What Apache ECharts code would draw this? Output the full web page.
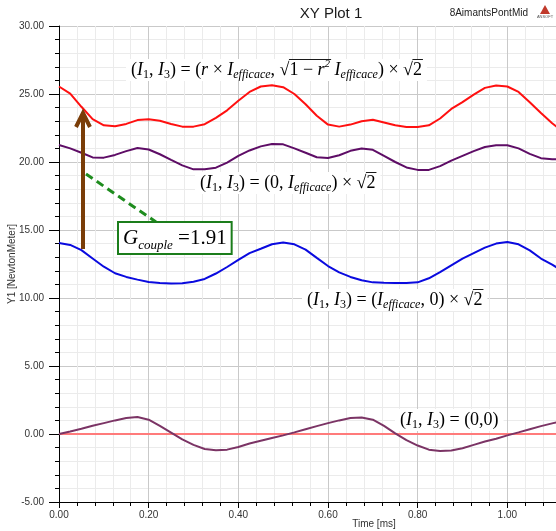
<!DOCTYPE html>
<html>
<head>
<meta charset="utf-8">
<script src="https://cdn.jsdelivr.net/npm/echarts@6/dist/echarts.min.js"></script>
<style>
html,body{margin:0;padding:0;background:#fff;}
#c{width:556px;height:531px;}
</style>
</head>
<body>
<div id="c"></div>
<script>
const timeMs = [0,0.025,0.05,0.075,0.1,0.125,0.15,0.175,0.2,0.225,0.25,0.275,0.3,0.325,0.35,0.375,0.4,0.425,0.45,0.475,0.5,0.525,0.55,0.575,0.6,0.625,0.65,0.675,0.7,0.725,0.75,0.775,0.8,0.825,0.85,0.875,0.9,0.925,0.95,0.975,1.0,1.025,1.05,1.075,1.1,1.11];
const torqueRI = [25.55,25.03,24.06,23.15,22.7,22.63,22.8,23.08,23.14,23.03,22.8,22.6,22.6,22.78,23.25,23.8,24.5,25.15,25.55,25.65,25.5,25.0,24.25,23.4,22.75,22.6,22.75,23.0,23.1,22.9,22.7,22.58,22.58,22.7,23.2,23.9,24.4,24.95,25.45,25.62,25.55,25.15,24.4,23.6,22.85,22.6];
const torque0I = [21.25,21.0,20.68,20.34,20.32,20.52,20.8,21.03,20.92,20.57,20.15,19.75,19.46,19.46,19.58,19.95,20.45,20.85,21.15,21.32,21.3,21.0,20.68,20.35,20.3,20.5,20.82,21.0,20.9,20.45,20.0,19.6,19.42,19.42,19.7,20.1,20.45,20.8,21.1,21.23,21.23,21.0,20.6,20.28,20.2,20.2];
const torqueI0 = [14.05,13.9,13.52,12.9,12.3,11.82,11.55,11.35,11.18,11.1,11.06,11.08,11.2,11.4,11.8,12.28,12.8,13.3,13.62,13.95,14.08,13.95,13.56,12.95,12.35,11.88,11.55,11.3,11.15,11.12,11.1,11.1,11.15,11.45,11.9,12.4,12.9,13.3,13.7,14.0,14.12,13.95,13.5,12.9,12.45,12.25];
const torque00 = [0.0,0.18,0.38,0.6,0.8,1.0,1.17,1.25,1.05,0.6,0.1,-0.4,-0.8,-1.1,-1.2,-1.15,-0.95,-0.7,-0.5,-0.3,-0.1,0.12,0.35,0.58,0.8,1.0,1.18,1.22,1.05,0.6,0.05,-0.45,-0.85,-1.15,-1.25,-1.22,-1.05,-0.8,-0.55,-0.35,-0.1,0.12,0.35,0.58,0.78,0.85];
const zeroRef = timeMs.map(() => 0);
const yTicks = [-5, 30, 5];
const xTicks = [0, 1.2, 0.2];

const pair = (vals) => timeMs.map((t, i) => [t, vals[i]]);
const chart = echarts.init(document.getElementById('c'));

const serif = 'Liberation Serif';
const rich = {
  n: {fontFamily: serif, fontSize: 18, color: '#1a1a1a', lineHeight: 22},
  i: {fontFamily: serif, fontSize: 18, fontStyle: 'italic', color: '#1a1a1a', lineHeight: 22},
  s: {fontFamily: serif, fontSize: 12, color: '#1a1a1a', lineHeight: 12, verticalAlign: 'bottom'},
  si: {fontFamily: serif, fontSize: 12, fontStyle: 'italic', color: '#1a1a1a', lineHeight: 12, verticalAlign: 'bottom'},
  sup: {fontFamily: serif, fontSize: 11, fontStyle: 'italic', color: '#1a1a1a', lineHeight: 11, verticalAlign: 'top'},
  gi: {fontFamily: serif, fontSize: 21, fontStyle: 'italic', color: '#1a1a1a', lineHeight: 28},
  gn: {fontFamily: serif, fontSize: 21, color: '#1a1a1a', lineHeight: 28},
  gs: {fontFamily: serif, fontSize: 13, fontStyle: 'italic', color: '#1a1a1a', lineHeight: 13, verticalAlign: 'bottom'}
};
const mctx = document.createElement('canvas').getContext('2d');
function tokW(st, txt) {
  const r = rich[st];
  mctx.font = (r.fontStyle ? 'italic ' : '') + r.fontSize + 'px ' + r.fontFamily;
  return mctx.measureText(txt).width;
}
// tokens: [style, text, overline?]
function formula(x, y, tokens) {
  const pad = 5;
  let cx = x + pad;
  const out = [];
  let text = '';
  let barStart = null;
  tokens.forEach(([st, txt, bar]) => {
    const w = tokW(st, txt);
    if (bar && barStart === null) barStart = cx;
    if (!bar && barStart !== null) { out.push([barStart, cx]); barStart = null; }
    text += '{' + st + '|' + txt + '}';
    cx += w;
  });
  if (barStart !== null) out.push([barStart, cx]);
  const els = [{type: 'text', z: 100, style: {x: x, y: y, text: text, rich: rich, textAlign: 'left', textVerticalAlign: 'middle', backgroundColor: '#fff', padding: [0, pad]}}];
  out.forEach(([a, b]) => {
    els.push({type: 'line', z: 101, shape: {x1: a - 0.5, y1: y - 10.5, x2: b + 1, y2: y - 10.5}, style: {stroke: '#1a1a1a', lineWidth: 1}});
  });
  return els;
}
const I13 = [['n','('],['i','I'],['s','1'],['n',', '],['i','I'],['s','3'],['n',') = (']];
const f1 = I13.concat([['i','r'],['n',' × '],['i','I'],['si','efficace'],['n',', √'],['n','1 − ',1],['i','r',1],['sup','2',1],['n',' '],['i','I'],['si','efficace'],['n',') × √'],['n','2',1]]);
const f2 = I13.concat([['n','0, '],['i','I'],['si','efficace'],['n',') × √'],['n','2',1]]);
const f3 = I13.concat([['i','I'],['si','efficace'],['n',', 0) × √'],['n','2',1]]);
const f4 = I13.concat([['n','0,0)']]);

chart.setOption({
  animation: false,
  backgroundColor: '#fff',
  grid: {left: 59, top: 26, right: -41, bottom: 29, containLabel: false, outerBoundsMode: 'none'},
  xAxis: {
    type: 'value', min: xTicks[0], max: xTicks[1], interval: xTicks[2],
    axisLine: {show: true, onZero: false, lineStyle: {color: '#000', width: 1}},
    axisTick: {show: true, length: 6, lineStyle: {color: '#000'}},
    minorTick: {show: true, splitNumber: 5, length: 4, lineStyle: {color: '#000'}},
    axisLabel: {fontSize: 10, color: '#333', margin: 8, fontFamily: 'Liberation Sans, Arial', formatter: v => v.toFixed(2)},
    splitLine: {show: true, lineStyle: {color: '#c9c9c9', width: 1}},
    minorSplitLine: {show: true, lineStyle: {color: '#ebebeb', width: 1}}
  },
  yAxis: {
    type: 'value', min: yTicks[0], max: yTicks[1], interval: yTicks[2],
    name: 'Y1 [NewtonMeter]', nameLocation: 'middle', nameGap: 42, nameMoveOverlap: false,
    nameTextStyle: {fontSize: 10, color: '#333', fontFamily: 'Liberation Sans, Arial'},
    axisLine: {show: true, onZero: false, lineStyle: {color: '#000', width: 1}},
    axisTick: {show: true, length: 10, lineStyle: {color: '#000'}},
    minorTick: {show: true, splitNumber: 5, length: 4, lineStyle: {color: '#000'}},
    axisLabel: {fontSize: 10, color: '#333', margin: 15, fontFamily: 'Liberation Sans, Arial', formatter: v => v.toFixed(2)},
    splitLine: {show: true, lineStyle: {color: '#c9c9c9', width: 1}},
    minorSplitLine: {show: true, lineStyle: {color: '#ebebeb', width: 1}}
  },
  series: [
    {name: 'zero', type: 'line', data: pair(zeroRef), symbol: 'none', lineStyle: {color: '#ff7b7b', width: 2}, z: 2},
    {name: '(0,0)', type: 'line', data: pair(torque00), symbol: 'none', lineStyle: {color: '#7b3465', width: 2}, z: 3},
    {name: '(Ieff,0)', type: 'line', data: pair(torqueI0), symbol: 'none', lineStyle: {color: '#0a0adf', width: 2}, z: 3},
    {name: '(0,Ieff)', type: 'line', data: pair(torque0I), symbol: 'none', lineStyle: {color: '#5e0d66', width: 2}, z: 3},
    {name: '(rIeff,..)', type: 'line', data: pair(torqueRI), symbol: 'none', lineStyle: {color: '#ff1010', width: 2}, z: 3}
  ],
  graphic: [
    {type: 'text', style: {x: 331, y: 14, text: 'XY Plot 1', textAlign: 'center', textVerticalAlign: 'middle', fontSize: 15, fontFamily: 'Liberation Sans, Arial', fill: '#1a1a1a'}},
    {type: 'text', style: {x: 528, y: 13, text: '8AimantsPontMid', textAlign: 'right', textVerticalAlign: 'middle', fontSize: 10, fontFamily: 'Liberation Sans, Arial', fill: '#222'}},
    {type: 'polygon', shape: {points: [[545, 5], [540, 14], [550, 14]]}, style: {fill: '#c0392b'}},
    {type: 'text', style: {x: 545, y: 17, text: 'ANSOFT', textAlign: 'center', textVerticalAlign: 'middle', fontSize: 4, fill: '#555'}},
    {type: 'text', style: {x: 374, y: 524, text: 'Time [ms]', textAlign: 'center', textVerticalAlign: 'middle', fontSize: 10, fontFamily: 'Liberation Sans, Arial', fill: '#333'}},
    ...formula(126, 70, f1),
    ...formula(195, 183, f2),
    ...formula(302, 300, f3),
    ...formula(395, 420, f4),
    {type: 'line', z: 90, shape: {x1: 86, y1: 174, x2: 156, y2: 222}, style: {stroke: '#1e8c1e', lineWidth: 3, lineDash: [8, 5]}},
    {type: 'line', z: 95, shape: {x1: 83, y1: 249, x2: 83, y2: 114}, style: {stroke: '#7a3d08', lineWidth: 4}},
    {type: 'polyline', z: 95, shape: {points: [[76, 127], [83, 113], [90, 127]]}, style: {stroke: '#7a3d08', lineWidth: 4, fill: null}},
    {type: 'text', z: 100, style: {x: 119, y: 238, text: '{gi|G}{gs|couple}{gn| =1.91}', rich: rich, textAlign: 'left', textVerticalAlign: 'middle', backgroundColor: '#fff', borderColor: '#1b7d1b', borderWidth: 2, padding: [1, 4]}}
  ]
});
</script>
</body>
</html>
